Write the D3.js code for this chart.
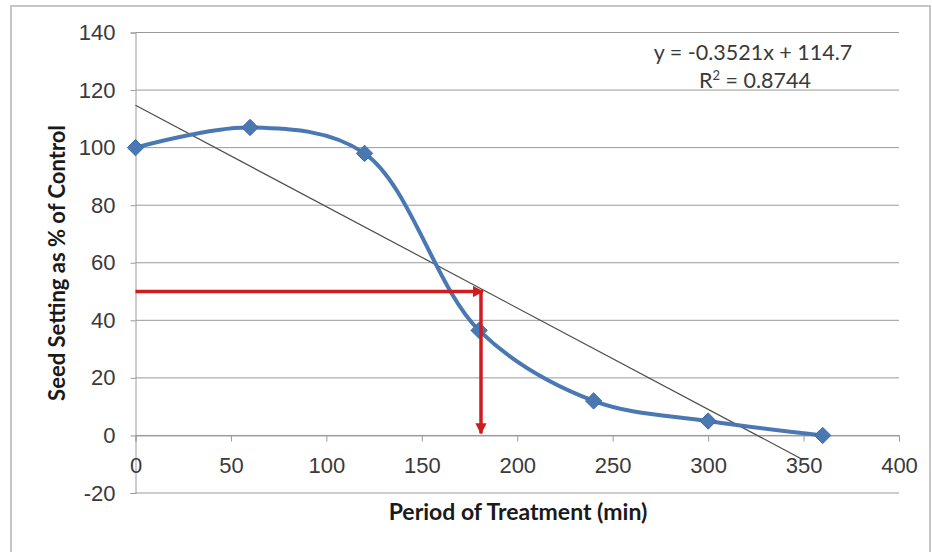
<!DOCTYPE html>
<html>
<head>
<meta charset="utf-8">
<script src="https://cdn.jsdelivr.net/npm/d3@7"></script>
<style>
  body { margin: 0; background: #fff; }
  svg { display: block; font-family: Lato, "Open Sans", sans-serif; }
</style>
</head>
<body>
<svg id="chart" width="932" height="552"></svg>
<script>
// Data
const minutes = [0, 60, 120, 180, 240, 300, 360];
const seedSetting = [100, 107, 98, 36.5, 12, 5, 0];
const trendRange = [0, 350];           // x-span the trendline is drawn over
const trendSlope = -0.3521;
const trendIntercept = 114.7;
const xTicks = [0, 50, 100, 150, 200, 250, 300, 350, 400];
const yTicks = [-20, 0, 20, 40, 60, 80, 100, 120, 140];
const target = [181, 50];              // 50% read-off point (x, y)

const svg = d3.select('#chart');

// Scales (plot area)
const x = d3.scaleLinear().domain([0, 400]).range([135.5, 899]);
const y = d3.scaleLinear().domain([-20, 140]).range([493, 32.5]);

// Outer chart border
svg.append('rect')
  .attr('x', 11).attr('y', 6)
  .attr('width', 919).attr('height', 560)
  .style('fill', '#fff')
  .style('stroke', '#c6c6c6')
  .style('stroke-width', 2);

// Horizontal gridlines
svg.append('g').selectAll('line')
  .data(yTicks)
  .enter().append('line')
  .attr('x1', x(0)).attr('x2', x(400))
  .attr('y1', d => y(d)).attr('y2', d => y(d))
  .style('stroke', '#9a9a9a')
  .style('stroke-width', 1);

// Y axis (left) - plain hyphen for negatives, like Excel
const yAxis = svg.append('g')
  .attr('transform', `translate(${x(0)},0)`)
  .call(d3.axisLeft(y).tickValues(yTicks).tickFormat(d => String(d)).tickSize(5).tickPadding(15));
yAxis.select('.domain').style('stroke', '#9a9a9a');
yAxis.selectAll('.tick line').style('stroke', '#9a9a9a');
yAxis.selectAll('text')
  .style('font-size', '22px')
  .style('fill', '#3a3a3a');

// X axis drawn along y = 0, labels below
const xAxis = svg.append('g')
  .attr('transform', `translate(0,${y(0)})`)
  .call(d3.axisBottom(x).tickValues(xTicks).tickFormat(d => String(d)).tickSize(6).tickPadding(16));
xAxis.select('.domain').style('stroke', '#9a9a9a');
xAxis.selectAll('.tick line').style('stroke', '#9a9a9a');
xAxis.selectAll('text')
  .style('font-size', '22px')
  .style('fill', '#3a3a3a');

// Linear trendline
const trendLine = d3.line()
  .x(d => x(d))
  .y(d => y(trendSlope * d + trendIntercept));
svg.append('path')
  .datum(trendRange)
  .attr('d', trendLine)
  .style('fill', 'none')
  .style('stroke', '#4d4d4d')
  .style('stroke-width', 1.2);

// Smoothed data series
const points = minutes.map((m, i) => ({ m: m, v: seedSetting[i] }));
const smooth = d3.line()
  .x(d => x(d.m))
  .y(d => y(d.v))
  .curve(d3.curveCatmullRom.alpha(0.5));
svg.append('path')
  .datum(points)
  .attr('d', smooth)
  .style('fill', 'none')
  .style('stroke', '#4a78b3')
  .style('stroke-width', 4);

// Diamond markers
svg.append('g').selectAll('path')
  .data(points)
  .enter().append('path')
  .attr('transform', d => `translate(${x(d.m)},${y(d.v)})`)
  .attr('d', d3.symbol().type(d3.symbolDiamond2).size(170))
  .style('fill', '#4a78b3')
  .style('stroke', '#3d6aa6')
  .style('stroke-width', 1);

// Red read-off arrows
const defs = svg.append('defs');
defs.append('marker')
  .attr('id', 'arrow')
  .attr('viewBox', '0 0 10 10')
  .attr('refX', 9).attr('refY', 5)
  .attr('markerWidth', 3.2).attr('markerHeight', 3.2)
  .attr('orient', 'auto')
  .append('path')
  .attr('d', 'M0,0 L10,5 L0,10 Z')
  .style('fill', '#d01c1f');

svg.append('line')
  .attr('x1', x(0)).attr('y1', y(target[1]))
  .attr('x2', x(target[0]) + 2).attr('y2', y(target[1]))
  .attr('marker-end', 'url(#arrow)')
  .style('stroke', '#d01c1f')
  .style('stroke-width', 3.5);

svg.append('line')
  .attr('x1', x(target[0])).attr('y1', y(target[1]) - 1.5)
  .attr('x2', x(target[0])).attr('y2', y(0) - 2)
  .attr('marker-end', 'url(#arrow)')
  .style('stroke', '#d01c1f')
  .style('stroke-width', 3.5);

// Trendline equation
svg.append('text')
  .attr('x', 753).attr('y', 60)
  .attr('text-anchor', 'middle')
  .style('font-size', '21.5px')
  .style('fill', '#3a3a3a')
  .text(`y = ${trendSlope}x + ${trendIntercept}`);

const r2 = svg.append('text')
  .attr('x', 755).attr('y', 88)
  .attr('text-anchor', 'middle')
  .style('font-size', '21.5px')
  .style('fill', '#3a3a3a');
r2.append('tspan').text('R');
r2.append('tspan').attr('dy', -8).style('font-size', '13px').text('2');
r2.append('tspan').attr('dy', 8).text(' = 0.8744');

// Axis titles
svg.append('text')
  .attr('x', 518).attr('y', 520)
  .attr('text-anchor', 'middle')
  .style('font-size', '23px')
  .style('font-weight', 'bold')
  .style('fill', '#1a1a1a')
  .text('Period of Treatment (min)');

svg.append('text')
  .attr('transform', 'translate(65,263) rotate(-90)')
  .attr('text-anchor', 'middle')
  .style('font-size', '22px')
  .style('font-weight', 'bold')
  .style('fill', '#1a1a1a')
  .text('Seed Setting as % of Control');
</script>
</body>
</html>
